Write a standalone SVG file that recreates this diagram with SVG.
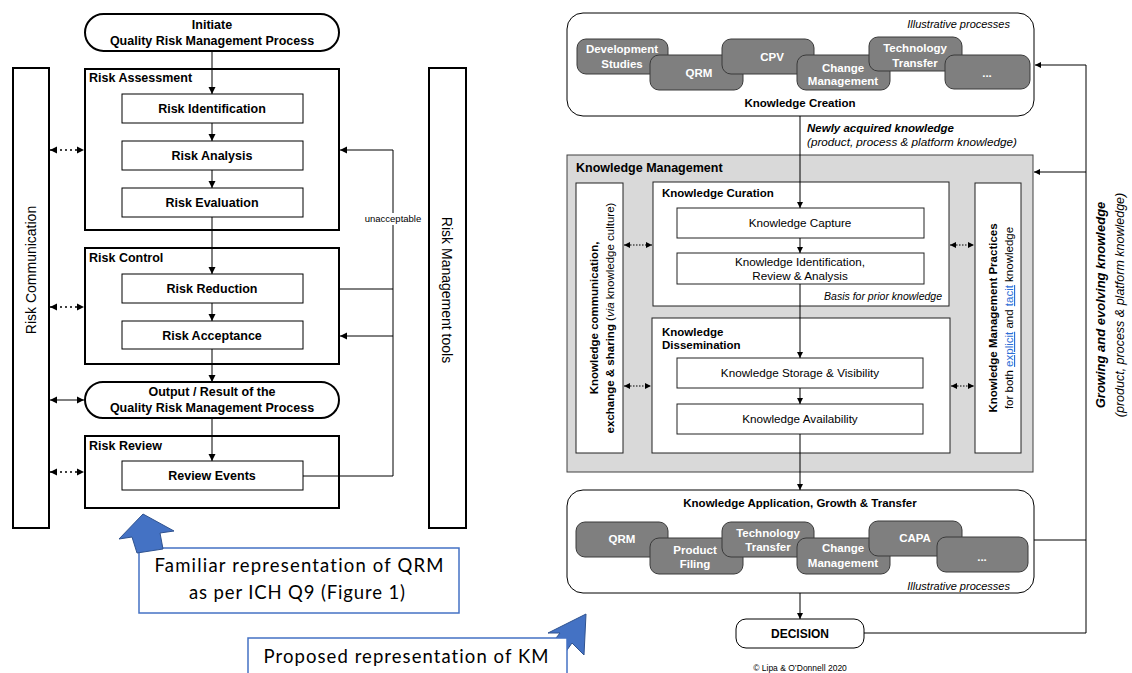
<svg xmlns="http://www.w3.org/2000/svg" width="1132" height="673" viewBox="0 0 1132 673">
  <style>
    text { font-family: "Liberation Sans", Arial, sans-serif; fill: #000; }
    .lb { font-size: 12.5px; font-weight: bold; text-anchor: middle; }
    .ll { font-size: 12.5px; font-weight: bold; }
    .side { font-size: 14px; text-anchor: middle; }
    .thick { fill: #fff; stroke: #000; stroke-width: 2; }
    .thin { fill: #fff; stroke: #000; stroke-width: 1; }
    .term { fill: #fff; stroke: #000; stroke-width: 2; }
    .conn { fill: none; stroke: #000; stroke-width: 1; }
    .dot { fill: none; stroke: #000; stroke-width: 1.6; stroke-dasharray: 2 3; }
    .dotk { fill: none; stroke: #000; stroke-width: 1.2; stroke-dasharray: 1.5 1.5; }
    .pill { fill: #7f7f7f; stroke: #3a3a3a; stroke-width: 1; }
    .pt { font-size: 11.5px; font-weight: bold; fill: #fff; text-anchor: middle; }
    .kb { font-size: 11.5px; font-weight: bold; }
    .kr { font-size: 11.7px; text-anchor: middle; }
    .it { font-size: 11px; font-style: italic; }
    .round { fill: #fff; stroke: #000; stroke-width: 1; }
    .box { fill: #fff; stroke: #222; stroke-width: 1; }
    .link { fill: #2e6fd6; text-decoration: underline; }
    .call { fill: #fff; stroke: #4472c4; stroke-width: 1.5; }
    .ct { font-family: Lato, "Liberation Sans", sans-serif; font-size: 18.5px; text-anchor: middle; font-variant-ligatures: none; }
    .blue { fill: #4472c4; stroke: #2f528f; stroke-width: 1; }
  </style>
  <defs>
    <marker id="ah" markerUnits="userSpaceOnUse" markerWidth="8" markerHeight="8" refX="7" refY="4" orient="auto-start-reverse">
      <path d="M0,0.5 L7,4 L0,7.5 z" fill="#000"/>
    </marker>
    <marker id="ahs" markerUnits="userSpaceOnUse" markerWidth="7" markerHeight="7" refX="6" refY="3.5" orient="auto-start-reverse">
      <path d="M0,0.5 L6,3.5 L0,6.5 z" fill="#000"/>
    </marker>
  </defs>
  <rect width="1132" height="673" fill="#fff"/>

  <!-- ===== Quality risk management process ===== -->
  <g id="risk-communication">
    <rect x="13" y="68" width="36" height="460" class="thick"/>
    <text class="side" transform="translate(36,270) rotate(-90)">Risk Communication</text>
  </g>
  <g id="risk-tools">
    <rect x="429" y="68" width="37" height="460" class="thick"/>
    <text class="side" transform="translate(442,290) rotate(90)">Risk Management tools</text>
  </g>
  <g id="initiate">
    <rect x="85" y="14" width="254" height="37" rx="18.5" class="term"/>
    <text x="212" y="29" class="lb">Initiate</text>
    <text x="212" y="45" class="lb">Quality Risk Management Process</text>
  </g>
  <g id="risk-assessment">
    <rect x="85" y="69" width="254" height="161" class="thick"/>
    <text x="89" y="82" class="ll">Risk Assessment</text>
  </g>
  <g id="risk-identification">
    <rect x="122" y="94" width="181" height="29" class="thin"/>
    <text x="212" y="113" class="lb">Risk Identification</text>
  </g>
  <g id="risk-analysis">
    <rect x="122" y="141" width="181" height="29" class="thin"/>
    <text x="212" y="160" class="lb">Risk Analysis</text>
  </g>
  <g id="risk-evaluation">
    <rect x="122" y="188" width="181" height="29" class="thin"/>
    <text x="212" y="207" class="lb">Risk Evaluation</text>
  </g>
  <g id="risk-control">
    <rect x="85" y="248" width="254" height="116" class="thick"/>
    <text x="89" y="262" class="ll">Risk Control</text>
  </g>
  <g id="risk-reduction">
    <rect x="122" y="274" width="181" height="29" class="thin"/>
    <text x="212" y="293" class="lb">Risk Reduction</text>
  </g>
  <g id="risk-acceptance">
    <rect x="122" y="321" width="181" height="28" class="thin"/>
    <text x="212" y="340" class="lb">Risk Acceptance</text>
  </g>
  <g id="output">
    <rect x="85" y="382" width="254" height="36" rx="18" class="term"/>
    <text x="212" y="396" class="lb">Output / Result of the</text>
    <text x="212" y="412" class="lb">Quality Risk Management Process</text>
  </g>
  <g id="risk-review">
    <rect x="85" y="436" width="254" height="72" class="thick"/>
    <text x="89" y="450" class="ll">Risk Review</text>
  </g>
  <g id="review-events">
    <rect x="122" y="461" width="181" height="29" class="thin"/>
    <text x="212" y="480" class="lb">Review Events</text>
  </g>

  <!-- ===== Knowledge management model ===== -->
  <g id="knowledge-creation">
    <rect x="567" y="13" width="467" height="103" rx="16" class="round"/>
    <text x="1010" y="28" class="it" text-anchor="end">Illustrative processes</text>
    <rect x="577" y="39" width="91" height="35" rx="9" class="pill"/>
    <text x="622" y="53" class="pt">Development</text>
    <text x="622" y="68" class="pt">Studies</text>
    <rect x="650" y="55" width="93" height="35" rx="9" class="pill"/>
    <text x="699" y="77" class="pt">QRM</text>
    <rect x="722" y="39" width="92" height="35" rx="9" class="pill"/>
    <text x="772" y="61" class="pt">CPV</text>
    <rect x="797" y="55" width="93" height="35" rx="9" class="pill"/>
    <text x="843" y="72" class="pt">Change</text>
    <text x="843" y="85" class="pt">Management</text>
    <rect x="869" y="37" width="93" height="34" rx="9" class="pill"/>
    <text x="915" y="52" class="pt">Technology</text>
    <text x="915" y="67" class="pt">Transfer</text>
    <rect x="945" y="55" width="85" height="34" rx="9" class="pill"/>
    <text x="987" y="77" class="pt">...</text>
    <text x="800" y="107" class="kb" text-anchor="middle">Knowledge Creation</text>
  </g>

  <g id="knowledge-management">
    <rect x="567" y="155" width="466" height="317" fill="#d9d9d9" stroke="#404040" stroke-width="1"/>
    <text x="576" y="172" class="kb" style="font-size:12.5px">Knowledge Management</text>
  </g>
  <g id="knowledge-sharing">
    <rect x="576" y="183" width="47" height="270" class="box"/>
    <text class="kb" text-anchor="middle" transform="translate(598,318) rotate(-90)">Knowledge communication,</text>
    <text text-anchor="middle" style="font-size:11.5px" transform="translate(614,318) rotate(-90)"><tspan font-weight="bold">exchange &amp; sharing</tspan> (<tspan font-style="italic">via</tspan> knowledge culture)</text>
  </g>
  <g id="km-practices">
    <rect x="975" y="183" width="46" height="270" class="box"/>
    <text class="kb" text-anchor="middle" transform="translate(997,318) rotate(-90)">Knowledge Management Practices</text>
    <text text-anchor="middle" style="font-size:11.5px" transform="translate(1013,318) rotate(-90)">for both <tspan class="link">explicit</tspan> and <tspan class="link">tacit</tspan> knowledge</text>
  </g>
  <g id="knowledge-curation">
    <rect x="653" y="182" width="296" height="124" class="box"/>
    <text x="662" y="197" class="kb">Knowledge Curation</text>
    <text x="942" y="300" class="it" style="font-size:10.5px" text-anchor="end">Basis for prior knowledge</text>
  </g>
  <g id="knowledge-capture">
    <rect x="677" y="208" width="247" height="30" class="box"/>
    <text x="800" y="227" class="kr">Knowledge Capture</text>
  </g>
  <g id="knowledge-identification">
    <rect x="677" y="253" width="247" height="31" class="box"/>
    <text x="800" y="266" class="kr">Knowledge Identification,</text>
    <text x="800" y="280" class="kr">Review &amp; Analysis</text>
  </g>
  <g id="knowledge-dissemination">
    <rect x="652" y="318" width="298" height="135" class="box"/>
    <text x="662" y="336" class="kb">Knowledge</text>
    <text x="662" y="349" class="kb">Dissemination</text>
  </g>
  <g id="knowledge-storage">
    <rect x="677" y="358" width="246" height="30" class="box"/>
    <text x="800" y="377" class="kr">Knowledge Storage &amp; Visibility</text>
  </g>
  <g id="knowledge-availability">
    <rect x="677" y="404" width="246" height="30" class="box"/>
    <text x="800" y="423" class="kr">Knowledge Availability</text>
  </g>

  <g id="knowledge-application">
    <rect x="567" y="490" width="467" height="103" rx="16" class="round"/>
    <text x="800" y="507" class="kb" text-anchor="middle">Knowledge Application, Growth &amp; Transfer</text>
    <rect x="576" y="522" width="92" height="35" rx="9" class="pill"/>
    <text x="622" y="543" class="pt">QRM</text>
    <rect x="650" y="538" width="93" height="36" rx="9" class="pill"/>
    <text x="695" y="554" class="pt">Product</text>
    <text x="695" y="568" class="pt">Filing</text>
    <rect x="722" y="522" width="92" height="35" rx="9" class="pill"/>
    <text x="768" y="537" class="pt">Technology</text>
    <text x="768" y="551" class="pt">Transfer</text>
    <rect x="797" y="538" width="93" height="36" rx="9" class="pill"/>
    <text x="843" y="552" class="pt">Change</text>
    <text x="843" y="567" class="pt">Management</text>
    <rect x="869" y="521" width="93" height="35" rx="9" class="pill"/>
    <text x="915" y="542" class="pt">CAPA</text>
    <rect x="937" y="537" width="91" height="35" rx="9" class="pill"/>
    <text x="982" y="561" class="pt">...</text>
    <text x="1010" y="590" class="it" text-anchor="end">Illustrative processes</text>
  </g>
  <g id="decision">
    <rect x="736" y="619" width="128" height="29" rx="10" class="round"/>
    <text x="800" y="638" class="kb" text-anchor="middle" style="font-size:12px">DECISION</text>
  </g>

  <!-- connectors -->
  <g id="connectors">
    <line x1="212" y1="51" x2="212" y2="94" class="conn" marker-end="url(#ah)"/>
    <line x1="212" y1="123" x2="212" y2="141" class="conn" marker-end="url(#ah)"/>
    <line x1="212" y1="170" x2="212" y2="188" class="conn" marker-end="url(#ah)"/>
    <line x1="212" y1="217" x2="212" y2="274" class="conn" marker-end="url(#ah)"/>
    <line x1="212" y1="303" x2="212" y2="321" class="conn" marker-end="url(#ah)"/>
    <line x1="212" y1="349" x2="212" y2="382" class="conn" marker-end="url(#ah)"/>
    <line x1="212" y1="418" x2="212" y2="461" class="conn" marker-end="url(#ah)"/>
    <polyline points="339,289 393,289 393,150 340,150" class="conn" marker-end="url(#ah)"/>
    <polyline points="303,476 393,476 393,289" class="conn"/>
    <line x1="393" y1="336" x2="340" y2="336" class="conn" marker-end="url(#ah)"/>
    <rect x="361" y="213" width="64" height="12" fill="#fff"/>
    <text x="393" y="222" text-anchor="middle" style="font-size:9.5px">unacceptable</text>
    <line x1="50" y1="150" x2="84" y2="150" class="dot" marker-start="url(#ah)" marker-end="url(#ah)"/>
    <line x1="50" y1="307" x2="84" y2="307" class="dot" marker-start="url(#ah)" marker-end="url(#ah)"/>
    <line x1="50" y1="400" x2="84" y2="400" class="conn" stroke-width="1.6" marker-start="url(#ah)" marker-end="url(#ah)"/>
    <line x1="50" y1="472" x2="84" y2="472" class="dot" marker-start="url(#ah)" marker-end="url(#ah)"/>

    <line x1="800" y1="116" x2="800" y2="208" class="conn" marker-end="url(#ahs)"/>
    <text x="807" y="132" class="kb" font-style="italic">Newly acquired knowledge</text>
    <text x="807" y="146" class="it" style="font-size:11.7px">(product, process &amp; platform knowledge)</text>
    <line x1="800" y1="238" x2="800" y2="253" class="conn" marker-end="url(#ahs)"/>
    <line x1="800" y1="284" x2="800" y2="358" class="conn" marker-end="url(#ahs)"/>
    <line x1="800" y1="388" x2="800" y2="404" class="conn" marker-end="url(#ahs)"/>
    <line x1="800" y1="434" x2="800" y2="490" class="conn" marker-end="url(#ahs)"/>
    <line x1="800" y1="593" x2="800" y2="619" class="conn" marker-end="url(#ahs)"/>
    <line x1="624" y1="245" x2="652" y2="245" class="dotk" marker-start="url(#ahs)" marker-end="url(#ahs)"/>
    <line x1="624" y1="386" x2="651" y2="386" class="dotk" marker-start="url(#ahs)" marker-end="url(#ahs)"/>
    <line x1="950" y1="245" x2="974" y2="245" class="dotk" marker-start="url(#ahs)" marker-end="url(#ahs)"/>
    <line x1="951" y1="386" x2="974" y2="386" class="dotk" marker-start="url(#ahs)" marker-end="url(#ahs)"/>
    <polyline points="864,633 1086,633 1086,65 1035,65" class="conn" marker-end="url(#ahs)"/>
    <line x1="1086" y1="172" x2="1034" y2="172" class="conn" marker-end="url(#ahs)"/>
    <line x1="1034" y1="540" x2="1086" y2="540" class="conn"/>
    <text class="kb" font-style="italic" text-anchor="middle" style="font-size:13px" transform="translate(1105,305) rotate(-90)">Growing and evolving knowledge</text>
    <text class="it" text-anchor="middle" style="font-size:12.5px" transform="translate(1124,305) rotate(-90)">(product, process &amp; platform knowledge)</text>
  </g>

  <text x="800" y="671" text-anchor="middle" style="font-size:8.5px" fill="#808080">© Lipa &amp; O’Donnell 2020</text>

  <!-- callouts -->
  <g id="callout-qrm">
    <rect x="139" y="548" width="320" height="65" class="call"/>
    <text x="299" y="572" class="ct" textLength="289">Familiar representation of QRM</text>
    <text x="297" y="599" class="ct" textLength="216">as per ICH Q9 (Figure 1)</text>
    <polygon points="143,514 174,531 160,533 163,549 137,553 132,537 119,539" class="blue"/>
  </g>
  <g id="callout-km">
    <polygon points="586,614 584,655 572,643 560,660 548,648 560,633 548,633" class="blue"/>
    <rect x="248" y="638" width="319" height="60" class="call"/>
    <text x="406" y="663" class="ct" textLength="285">Proposed representation of KM</text>
  </g>
</svg>
